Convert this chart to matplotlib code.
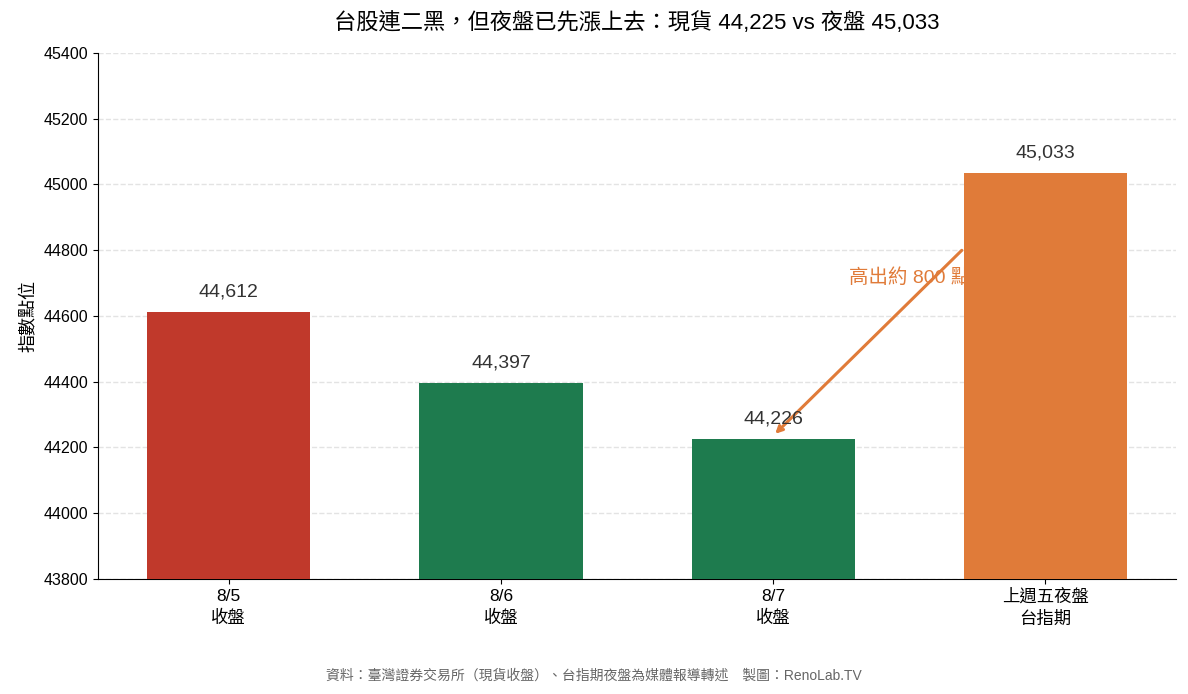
import matplotlib.pyplot as plt

plt.rcParams['font.family'] = ['Liberation Sans', 'Noto Sans CJK TC', 'DejaVu Sans']

labels = ["8/5\n收盤", "8/6\n收盤", "8/7\n收盤", "上週五夜盤\n台指期"]
values = [44612, 44397, 44226, 45033]
colors = ["#C0392B", "#1E7B4E", "#1E7B4E", "#E07B39"]

fig, ax = plt.subplots(figsize=(11.88, 6.94), dpi=100)
x = range(len(values))
ax.bar(x, values, width=0.6, color=colors, zorder=3)
for i, v in enumerate(values):
    ax.text(i, v + 35, f"{v:,}", ha='center', va='bottom', fontsize=14, color='#333333', zorder=4)

ax.set_ylim(43800, 45400)
ax.set_yticks(range(43800, 45401, 200))
ax.set_xticks(list(x))
ax.set_xticklabels(labels, fontsize=12.5, linespacing=1.45)
ax.tick_params(axis='y', labelsize=11.5)
ax.set_ylabel("指數點位", fontsize=13)
ax.grid(axis='y', ls='--', color='#e3e3e3', lw=1, zorder=0)
ax.spines['top'].set_visible(False)
ax.spines['right'].set_visible(False)

ax.text(2.5, 44715, "高出約 800 點", ha='center', va='center', fontsize=14, color='#E07B39', zorder=2)
ax.annotate("", xy=(2.0, 44235), xytext=(2.7, 44805),
            arrowprops=dict(arrowstyle='->', color='#E07B39', lw=2.2), zorder=2)

ax.set_title("台股連二黑，但夜盤已先漲上去：現貨 44,225 vs 夜盤 45,033", fontsize=16, pad=17)
fig.text(0.5, 0.02, "資料：臺灣證券交易所（現貨收盤）、台指期夜盤為媒體報導轉述　製圖：RenoLab.TV",
         ha='center', fontsize=10, color='#666666')

plt.subplots_adjust(left=0.0825, right=0.99, top=0.924, bottom=0.166)
plt.savefig("out.png")
